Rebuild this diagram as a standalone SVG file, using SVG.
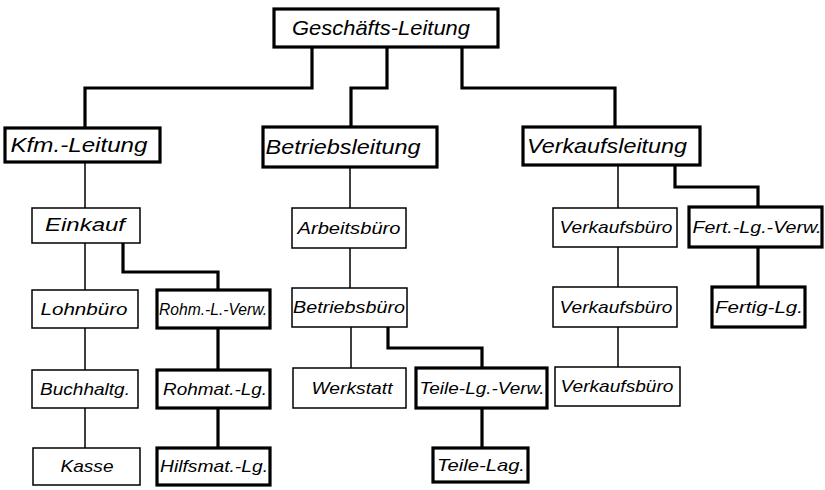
<svg xmlns="http://www.w3.org/2000/svg" width="825" height="490" viewBox="0 0 825 490">
<style>
rect{fill:#fff;stroke:#000}
.k rect{stroke-width:3.2}
.n rect{stroke-width:1.5}
text{font-family:"Liberation Sans","DejaVu Sans",sans-serif;font-style:italic;fill:#000;text-anchor:middle}
.h text{font-size:21px}
.s text{font-size:17px}
.ck{fill:none;stroke:#000;stroke-width:3.2}
.cn{fill:none;stroke:#000;stroke-width:1.5}
</style>
<rect x="0" y="0" width="825" height="490" style="stroke:none;fill:#fff"/>
<g id="connectors">
<path class="ck" d="M312,47 V88 H85 V128"/>
<path class="ck" d="M387,47 V88 H351 V127"/>
<path class="ck" d="M462,47 V88 H615 V127"/>
<path class="ck" d="M123,243 V272 H218 V290"/>
<path class="ck" d="M218,328 V370"/>
<path class="ck" d="M218,408 V448"/>
<path class="ck" d="M388,327 V348 H482 V368"/>
<path class="ck" d="M482,408 V448"/>
<path class="ck" d="M675,165 V187 H758 V207"/>
<path class="ck" d="M758,247 V287"/>
<path class="cn" d="M85,162 V208"/>
<path class="cn" d="M85,243 V290"/>
<path class="cn" d="M85,328 V370"/>
<path class="cn" d="M85,408 V448"/>
<path class="cn" d="M350,167 V208"/>
<path class="cn" d="M350,248 V288"/>
<path class="cn" d="M351,327 V368"/>
<path class="cn" d="M618,165 V208"/>
<path class="cn" d="M618,247 V287"/>
<path class="cn" d="M618,327 V367"/>
</g>
<g id="geschaeftsleitung" class="k h"><rect x="274" y="9" width="224" height="38"/><text x="381" y="35" textLength="178" lengthAdjust="spacingAndGlyphs">Geschäfts-Leitung</text></g>
<g id="kfm" class="k h"><rect x="5" y="128" width="155" height="34"/><text x="79" y="152" textLength="137" lengthAdjust="spacingAndGlyphs">Kfm.-Leitung</text></g>
<g id="betriebsleitung" class="k h"><rect x="263" y="127" width="174" height="40"/><text x="343" y="154" textLength="155" lengthAdjust="spacingAndGlyphs">Betriebsleitung</text></g>
<g id="verkaufsleitung" class="k h"><rect x="523" y="127" width="177" height="38"/><text x="607" y="153" textLength="160" lengthAdjust="spacingAndGlyphs">Verkaufsleitung</text></g>
<g id="einkauf" class="n s"><rect x="32" y="208" width="108" height="35"/><text x="85" y="231" style="font-size:18px" textLength="80" lengthAdjust="spacingAndGlyphs">Einkauf</text></g>
<g id="lohnbuero" class="n s"><rect x="32" y="290" width="106" height="38"/><text x="84" y="315" textLength="87" lengthAdjust="spacingAndGlyphs">Lohnbüro</text></g>
<g id="rohmlverw" class="k s"><rect x="157" y="290" width="113" height="38"/><text x="213" y="315" textLength="108" lengthAdjust="spacingAndGlyphs">Rohm.-L.-Verw.</text></g>
<g id="buchhaltg" class="n s"><rect x="32" y="370" width="106" height="38"/><text x="85" y="395" textLength="90" lengthAdjust="spacingAndGlyphs">Buchhaltg.</text></g>
<g id="rohmatlg" class="k s"><rect x="157" y="370" width="113" height="38"/><text x="215" y="395" textLength="104" lengthAdjust="spacingAndGlyphs">Rohmat.-Lg.</text></g>
<g id="kasse" class="n s"><rect x="33" y="448" width="107" height="37"/><text x="87" y="472" textLength="53" lengthAdjust="spacingAndGlyphs">Kasse</text></g>
<g id="hilfsmatlg" class="k s"><rect x="157" y="448" width="113" height="37"/><text x="214" y="472" textLength="108" lengthAdjust="spacingAndGlyphs">Hilfsmat.-Lg.</text></g>
<g id="arbeitsbuero" class="n s"><rect x="292" y="208" width="114" height="40"/><text x="349" y="234" textLength="103" lengthAdjust="spacingAndGlyphs">Arbeitsbüro</text></g>
<g id="betriebsbuero" class="n s"><rect x="292" y="288" width="115" height="39"/><text x="349" y="313" textLength="112" lengthAdjust="spacingAndGlyphs">Betriebsbüro</text></g>
<g id="werkstatt" class="n s"><rect x="293" y="368" width="113" height="40"/><text x="352" y="394" textLength="81" lengthAdjust="spacingAndGlyphs">Werkstatt</text></g>
<g id="teilelgverw" class="k s"><rect x="416" y="368" width="131" height="40"/><text x="482" y="394" textLength="125" lengthAdjust="spacingAndGlyphs">Teile-Lg.-Verw.</text></g>
<g id="teilelag" class="k s"><rect x="433" y="448" width="95" height="34"/><text x="481" y="471" textLength="88" lengthAdjust="spacingAndGlyphs">Teile-Lag.</text></g>
<g id="verkaufsbuero1" class="n s"><rect x="553" y="208" width="124" height="39"/><text x="616" y="233" textLength="113" lengthAdjust="spacingAndGlyphs">Verkaufsbüro</text></g>
<g id="fertlgverw" class="k s"><rect x="689" y="207" width="133" height="40"/><text x="757" y="233" textLength="129" lengthAdjust="spacingAndGlyphs">Fert.-Lg.-Verw.</text></g>
<g id="verkaufsbuero2" class="n s"><rect x="553" y="287" width="124" height="40"/><text x="616" y="313" textLength="113" lengthAdjust="spacingAndGlyphs">Verkaufsbüro</text></g>
<g id="fertiglg" class="k s"><rect x="712" y="287" width="93" height="40"/><text x="759" y="313" textLength="88" lengthAdjust="spacingAndGlyphs">Fertig-Lg.</text></g>
<g id="verkaufsbuero3" class="n s"><rect x="555" y="367" width="125" height="39"/><text x="617" y="392" textLength="113" lengthAdjust="spacingAndGlyphs">Verkaufsbüro</text></g>
</svg>
